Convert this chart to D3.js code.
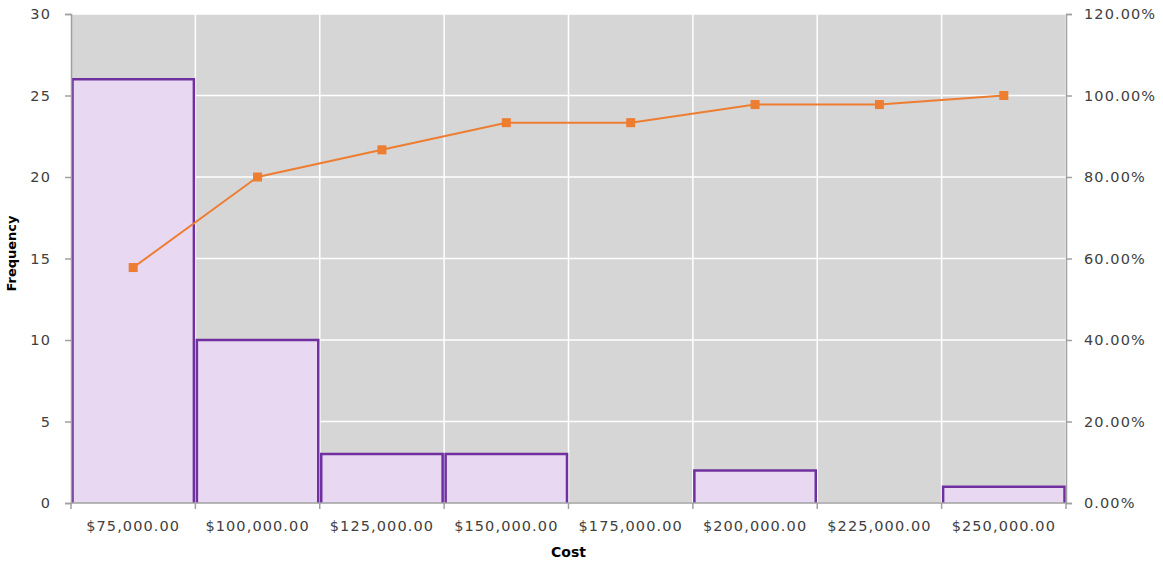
<!DOCTYPE html>
<html>
<head>
<meta charset="utf-8">
<script src="https://cdn.jsdelivr.net/npm/d3@7"></script>
<style>
  body { margin: 0; background: #fff; }
  text { font-family: "DejaVu Sans", sans-serif; }
</style>
</head>
<body>
<script>
// bins (upper bound labels), frequencies, cumulative percent
let bins = ["$75,000.00", "$100,000.00", "$125,000.00", "$150,000.00", "$175,000.00", "$200,000.00", "$225,000.00", "$250,000.00"];
let freq = [26, 10, 3, 3, 0, 2, 0, 1];
let cumPct = [57.78, 80.00, 86.67, 93.33, 93.33, 97.78, 97.78, 100.00];
let leftTicks = [0, 5, 10, 15, 20, 25, 30];
let rightTicks = [0, 20, 40, 60, 80, 100, 120];

var margin = {top: 14, right: 97, bottom: 60, left: 71},
    width = 1163 - margin.left - margin.right,
    height = 563 - margin.top - margin.bottom;

var svg = d3.select("body").append("svg")
    .attr("width", 1163)
    .attr("height", 563)
    .append("g")
    .attr("transform", "translate(" + margin.left + "," + margin.top + ")");

var x = d3.scaleBand().domain(bins).range([0, width]).padding(0);
var y = d3.scaleLinear().domain([0, 30]).range([height, 0]);
var y2 = d3.scaleLinear().domain([0, 120]).range([height, 0]);

let textColor = "#404040";
let axisColor = "#a0a0a0";
let tickFont = "14.5px";
let tickSpacing = "1.1px";

// plot background
svg.append("rect")
    .attr("width", width)
    .attr("height", height)
    .attr("fill", "#d6d6d6");

// horizontal grid
svg.selectAll(".hgrid")
    .data(leftTicks)
    .enter().append("line")
    .attr("x1", 0).attr("x2", width)
    .attr("y1", d => y(d)).attr("y2", d => y(d))
    .attr("stroke", "#fff").attr("stroke-width", 1.5);

// vertical grid at bin edges
svg.selectAll(".vgrid")
    .data(bins)
    .enter().append("line")
    .attr("x1", d => x(d) + x.bandwidth()).attr("x2", d => x(d) + x.bandwidth())
    .attr("y1", 0).attr("y2", height)
    .attr("stroke", "#fff").attr("stroke-width", 1.5);

// bars: fill, then outline on three sides (no bottom edge)
let barData = freq.map((f, i) => ({bin: bins[i], f: f})).filter(d => d.f > 0);
svg.selectAll(".bar")
    .data(barData)
    .enter().append("rect")
    .attr("x", d => x(d.bin) + 1)
    .attr("width", x.bandwidth() - 2)
    .attr("y", d => y(d.f))
    .attr("height", d => height - y(d.f))
    .attr("fill", "#e8d8f2");

svg.selectAll(".barEdge")
    .data(barData)
    .enter().append("path")
    .attr("d", d => {
        let x0 = x(d.bin) + 1.5, x1 = x(d.bin) + x.bandwidth() - 1.5;
        return "M" + x0 + "," + height + "V" + y(d.f) + "H" + x1 + "V" + height;
    })
    .attr("fill", "none")
    .attr("stroke", "#7030a0")
    .attr("stroke-width", 2.5);

// left axis
var yAxis = d3.axisLeft(y).tickValues(leftTicks).tickSize(6).tickPadding(14);
var gy = svg.append("g").call(yAxis);
gy.select(".domain").attr("stroke", axisColor).attr("stroke-width", 1.5);
gy.selectAll(".tick line").attr("stroke", axisColor).attr("stroke-width", 1.5);
gy.selectAll("text").attr("fill", textColor).style("font-size", tickFont).style("letter-spacing", tickSpacing);

// right axis
var y2Axis = d3.axisRight(y2).tickValues(rightTicks).tickSize(6).tickPadding(12)
    .tickFormat(d => d.toFixed(2) + "%");
var gy2 = svg.append("g").attr("transform", "translate(" + width + ",0)").call(y2Axis);
gy2.select(".domain").attr("stroke", axisColor).attr("stroke-width", 1.5);
gy2.selectAll(".tick line").attr("stroke", axisColor).attr("stroke-width", 1.5);
gy2.selectAll("text").attr("fill", textColor).style("font-size", tickFont).style("letter-spacing", tickSpacing);

// bottom axis: ticks at bin edges, labels at centers
var gx = svg.append("g").attr("transform", "translate(0," + height + ")");
gx.append("line")
    .attr("x1", 0).attr("x2", width)
    .attr("stroke", axisColor).attr("stroke-width", 1.5);
gx.selectAll(".edge")
    .data([0].concat(bins.map(d => x(d) + x.bandwidth())))
    .enter().append("line")
    .attr("x1", d => d).attr("x2", d => d)
    .attr("y1", 0).attr("y2", 6)
    .attr("stroke", axisColor).attr("stroke-width", 1.5);
gx.selectAll(".lbl")
    .data(bins)
    .enter().append("text")
    .attr("x", d => x(d) + x.bandwidth() / 2)
    .attr("y", 28)
    .attr("text-anchor", "middle")
    .attr("fill", textColor)
    .style("font-size", tickFont)
    .style("letter-spacing", tickSpacing)
    .text(d => d);

// cumulative line
var line = d3.line()
    .x((d, i) => x(bins[i]) + x.bandwidth() / 2)
    .y(d => y2(d));

svg.append("path")
    .datum(cumPct)
    .attr("d", line)
    .attr("fill", "none")
    .attr("stroke", "#ed7d31")
    .attr("stroke-width", 2);

svg.selectAll(".pt")
    .data(cumPct)
    .enter().append("rect")
    .attr("x", (d, i) => x(bins[i]) + x.bandwidth() / 2 - 4.5)
    .attr("y", d => y2(d) - 4.5)
    .attr("width", 9).attr("height", 9)
    .attr("fill", "#ed7d31");

// axis titles
svg.append("text")
    .attr("transform", "rotate(-90)")
    .attr("x", -height / 2 + 5)
    .attr("y", -55)
    .attr("text-anchor", "middle")
    .attr("fill", "#000")
    .style("font-size", "13px")
    .style("font-weight", "bold")
    .text("Frequency");

svg.append("text")
    .attr("x", width / 2)
    .attr("y", height + 54)
    .attr("text-anchor", "middle")
    .attr("fill", "#000")
    .style("font-size", "14px")
    .style("font-weight", "bold")
    .text("Cost");
</script>
</body>
</html>
